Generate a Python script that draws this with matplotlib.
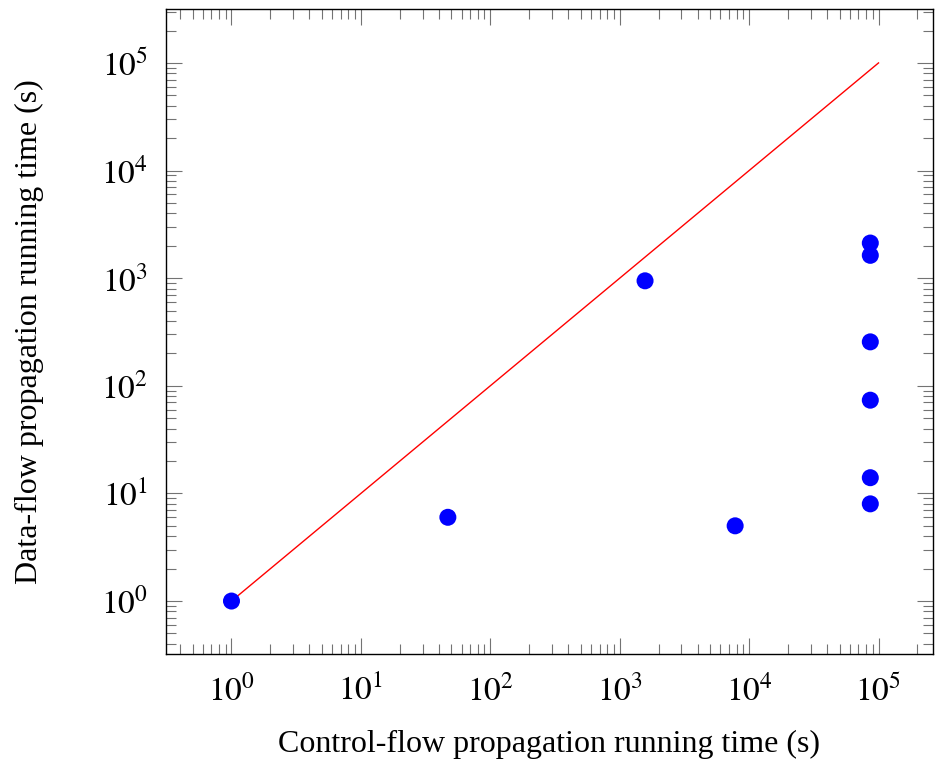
import numpy as np
import matplotlib
matplotlib.use("Agg")
import matplotlib.pyplot as plt
from matplotlib.ticker import LogLocator, NullFormatter, FixedLocator

# control-flow (x) vs data-flow (y) running times in seconds
cf_time = [1, 47, 1570, 7800, 86400, 86400, 86400, 86400, 86400, 86400]
df_time = [1, 6, 945, 5, 2120, 1630, 256, 73.5, 14, 8]

diag = [1, 1e5]
decades = [0, 1, 2, 3, 4, 5]

plt.rcParams["font.family"] = ["Liberation Serif", "DejaVu Serif"]
plt.rcParams["mathtext.fontset"] = "stix"


def main():
    fig = plt.figure(figsize=(9.35, 7.59), dpi=100)
    ax = fig.add_axes([166 / 935, 1 - 654 / 759, (933 - 166) / 935, (654 - 9) / 759])

    ax.plot(diag, diag, color="red", linewidth=1.0, zorder=2)
    ax.scatter(cf_time, df_time, s=150, color="blue", edgecolors="none", zorder=3)

    ax.set_xscale("log")
    ax.set_yscale("log")
    ax.set_xlim(10 ** -0.506, 10 ** 5.421)
    ax.set_ylim(10 ** -0.492, 10 ** 5.501)

    ticks = [10.0 ** d for d in decades]
    labels = [f"$10^{{{d}}}$" for d in decades]
    for axis in (ax.xaxis, ax.yaxis):
        axis.set_major_locator(FixedLocator(ticks))
        axis.set_minor_locator(LogLocator(base=10, subs=np.arange(2, 10)))
        axis.set_minor_formatter(NullFormatter())
    ax.set_xticklabels(labels)
    ax.set_yticklabels(labels)

    ax.tick_params(which="both", direction="in", top=True, right=True,
                   color="0.45", width=0.8)
    ax.tick_params(which="major", length=11.5, labelsize=24)
    ax.tick_params(axis="x", which="major", pad=15)
    ax.tick_params(axis="y", which="major", pad=13)
    ax.tick_params(which="minor", length=7.2)
    for sp in ax.spines.values():
        sp.set_linewidth(1.0)

    ax.set_xlabel("Control-flow propagation running time (s)", fontsize=23, labelpad=16)
    ax.set_ylabel("Data-flow propagation running time (s)", fontsize=23, labelpad=41)

    fig.savefig("out.png", dpi=100)


if __name__ == "__main__":
    main()
